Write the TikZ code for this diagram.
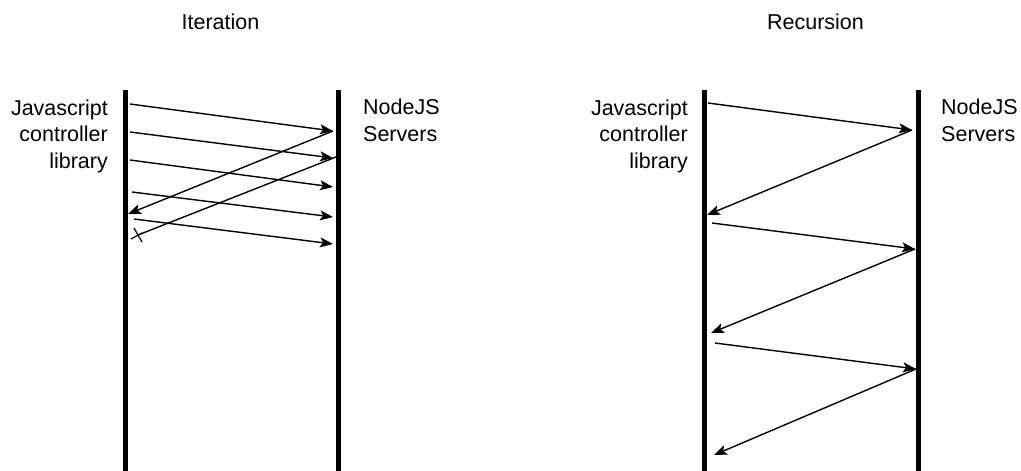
\documentclass[tikz,border=0pt]{standalone}
\usepackage{fontspec}
\setmainfont{Liberation Sans}
\usetikzlibrary{arrows.meta}
\begin{document}
\begin{tikzpicture}[x=1pt,y=-1pt,
  life/.style={line width=5pt},
  msg/.style={line width=1.4pt,-{Stealth[length=13pt,width=10pt,inset=3pt]}},
  plain/.style={line width=1.4pt},
  lbl/.style={inner sep=0pt,font=\fontsize{21.5}{26.5}\selectfont},
]
\useasboundingbox (0,0) rectangle (1021,471);
% titles
\node[lbl,anchor=base] (t1) at (220.5,29) {Iteration};
\node[lbl,anchor=base] (t2) at (815.5,29) {Recursion};
% lifelines
\coordinate (L1t) at (125.5,90); \coordinate (L1b) at (125.5,471);
\coordinate (R1t) at (338,90); \coordinate (R1b) at (338,471);
\coordinate (L2t) at (704.5,90); \coordinate (L2b) at (704.5,471);
\coordinate (R2t) at (918,90); \coordinate (R2b) at (918,471);
\draw[life] (L1t) -- (L1b);
\draw[life] (R1t) -- (R1b);
\draw[life] (L2t) -- (L2b);
\draw[life] (R2t) -- (R2b);
% labels
\node[lbl,anchor=base east,align=right] (js1) at (108,168) {Javascript\\controller\\library};
\node[lbl,anchor=base west,align=left] (ns1) at (363,141) {NodeJS\\Servers};
\node[lbl,anchor=base east,align=right] (js2) at (688,168) {Javascript\\controller\\library};
\node[lbl,anchor=base west,align=left] (ns2) at (941,141) {NodeJS\\Servers};
% iteration messages
\coordinate (a1) at (130,104); \coordinate (b1) at (333,131);
\coordinate (a2) at (130,132); \coordinate (b2) at (333,158);
\coordinate (a3) at (130,160); \coordinate (b3) at (333,187);
\coordinate (a4) at (132,192); \coordinate (b4) at (333,217);
\coordinate (a5) at (134,219); \coordinate (b5) at (333,244);
\draw[msg] (a1) -- (b1);
\draw[msg] (a2) -- (b2);
\draw[msg] (a3) -- (b3);
\draw[msg] (a4) -- (b4);
\draw[msg] (a5) -- (b5);
\coordinate (rb1) at (333,131); \coordinate (ra1) at (128,214);
\draw[msg] (rb1) -- (ra1);
\coordinate (rb2) at (336,157); \coordinate (x) at (138,235);
\draw[plain] (rb2) -- (x);
\draw[line width=1.2pt] ([shift={(-4,-7)}]x) -- ([shift={(4,7)}]x);
\draw[line width=1.2pt] ([shift={(-7,4)}]x) -- ([shift={(4,-2)}]x);
% recursion messages
\coordinate (c1) at (708,103); \coordinate (d1) at (912,130);
\coordinate (c2) at (707,215);
\coordinate (c3) at (712,223); \coordinate (d3) at (915,249);
\coordinate (c4) at (711,333);
\coordinate (c5) at (715,343); \coordinate (d5) at (916,369);
\coordinate (c6) at (714,455);
\draw[msg] (c1) -- (d1);
\draw[msg] (d1) -- (c2);
\draw[msg] (c3) -- (d3);
\draw[msg] (d3) -- (c4);
\draw[msg] (c5) -- (d5);
\draw[msg] (d5) -- (c6);
\end{tikzpicture}
\end{document}
